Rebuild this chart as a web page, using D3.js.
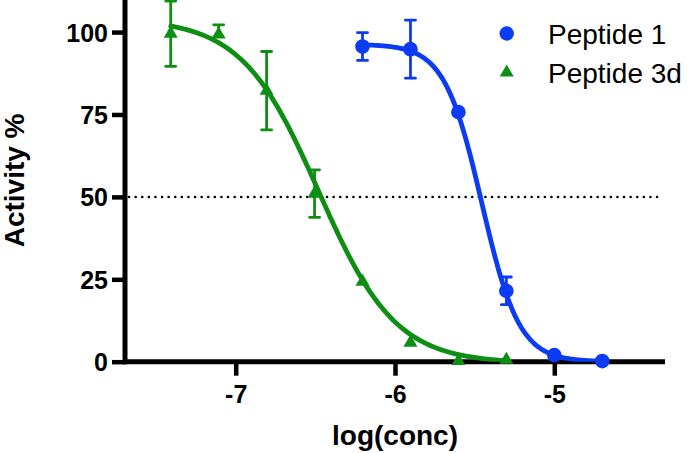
<!DOCTYPE html>
<html>
<head>
<meta charset="utf-8">
<script src="https://cdn.jsdelivr.net/npm/d3@7"></script>
<style>
  html, body { margin: 0; padding: 0; background: #fff; }
  svg { display: block; }
</style>
</head>
<body>
<svg id="chart" width="688" height="453"></svg>
<script>
// ---- data ----
const xTicks = [-7, -6, -5];
const yTicks = [0, 25, 50, 75, 100];

const seriesNames = ["Peptide 1", "Peptide 3d"];

// Peptide 1 (blue circles)
const p1LogConc = [-6.204, -5.903, -5.602, -5.301, -5.000, -4.699];
const p1Activity = [95.6, 94.8, 75.7, 21.5, 2.0, 0.2];
const p1ErrUp = [4.2, 8.8, 0, 4.2, 0, 0];
const p1ErrDown = [4.2, 8.8, 0, 4.2, 0, 0];

// Peptide 3d (green triangles)
const p3LogConc = [-7.408, -7.107, -6.806, -6.505, -6.204, -5.903, -5.602, -5.301];
const p3Activity = [99.5, 99.3, 82.2, 51.0, 24.3, 5.8, 0.2, 0.6];
const p3ErrUp = [9.9, 2.9, 11.9, 7.2, 0, 0, 0, 0];
const p3ErrDown = [9.9, 0, 11.9, 7.2, 0, 0, 0, 0];

// fitted 4-parameter logistic curves: [top, bottom, logIC50, hill]
const p1Fit = [96.3, 0.0, -5.455, 3.7];
const p3Fit = [104.0, -0.5, -6.48, 1.8];

const referenceLine = 50;

// ---- layout ----
const svg = d3.select("#chart");
const x = d3.scaleLinear().domain([-7.695, -4.305]).range([125, 665]);
const y = d3.scaleLinear().domain([0, 110]).range([361.7, -0.9]);

const blue = "#0b3cf4";
const green = "#0e8f14";
const font = "'Liberation Sans', Arial, Helvetica, sans-serif";

// axes
const xAxis = d3.axisBottom(x).tickValues(xTicks).tickSize(14).tickPadding(9)
  .tickFormat(d => String(d).replace("\u2212", "-"));
const yAxis = d3.axisLeft(y).tickValues(yTicks).tickSize(13).tickPadding(4);

const gx = svg.append("g").attr("transform", `translate(0,${y(0)})`).call(xAxis);
const gy = svg.append("g").attr("transform", `translate(${x.range()[0]},0)`).call(yAxis);

[gx, gy].forEach(g => {
  g.select(".domain").attr("stroke", "#000").attr("stroke-width", 5);
  g.selectAll(".tick line").attr("stroke", "#000").attr("stroke-width", 4.5);
  g.selectAll(".tick text").attr("fill", "#000")
    .style("font-family", font).style("font-weight", "bold").style("font-size", "25px");
});
gx.select(".domain").attr("d", `M${x.range()[0]},0H${x.range()[1]}`);
gy.select(".domain").attr("d", `M0,${y(0) + 2.5}V${y.range()[1]}`);
gy.selectAll(".tick text").attr("dy", "0.36em");
gx.selectAll(".tick text").attr("dy", "0.72em");

// axis titles
svg.append("text")
  .attr("x", (x.range()[0] + x.range()[1]) / 2).attr("y", 445)
  .attr("text-anchor", "middle")
  .style("font-family", font).style("font-weight", "bold").style("font-size", "28px")
  .text("log(conc)");
svg.append("text")
  .attr("transform", `translate(24,${y(55)}) rotate(-90)`)
  .attr("text-anchor", "middle")
  .style("font-family", font).style("font-weight", "bold").style("font-size", "28px")
  .text("Activity %");

// dotted reference line
svg.append("line")
  .attr("x1", 129).attr("x2", 661)
  .attr("y1", y(referenceLine)).attr("y2", y(referenceLine))
  .attr("stroke", "#000").attr("stroke-width", 2.5)
  .attr("stroke-linecap", "round")
  .attr("stroke-dasharray", "0.1 6.5");

// clip for curves
svg.append("clipPath").attr("id", "plotclip")
  .append("rect").attr("x", x.range()[0]).attr("y", -5)
  .attr("width", x.range()[1] - x.range()[0]).attr("height", y(0) + 5);

function logistic(fit, lx) {
  const [top, bottom, c, h] = fit;
  return bottom + (top - bottom) / (1 + Math.pow(10, (lx - c) * h));
}

function drawSeries(xs, ys, errUp, errDown, fit, color, symbolType, symbolSize) {
  const g = svg.append("g");
  // curve
  const lo = d3.min(xs), hi = d3.max(xs);
  const curveX = d3.range(0, 201).map(i => lo + (hi - lo) * i / 200);
  const line = d3.line().x(d => x(d)).y(d => y(logistic(fit, d)));
  g.append("path").datum(curveX)
    .attr("clip-path", "url(#plotclip)")
    .attr("d", line).attr("fill", "none")
    .attr("stroke", color).attr("stroke-width", 4.8)
    .attr("stroke-linecap", "round");
  // error bars
  const pts = xs.map((v, i) => ({x: v, y: ys[i], up: errUp[i], dn: errDown[i]}));
  pts.filter(d => d.up > 0 || d.dn > 0).forEach(d => {
    const cx = x(d.x);
    g.append("line").attr("x1", cx).attr("x2", cx)
      .attr("y1", y(d.y + d.up)).attr("y2", y(d.y - d.dn))
      .attr("stroke", color).attr("stroke-width", 2.8);
    if (d.up > 0) g.append("line").attr("x1", cx - 5).attr("x2", cx + 5)
      .attr("y1", y(d.y + d.up)).attr("y2", y(d.y + d.up))
      .attr("stroke", color).attr("stroke-width", 2.8).attr("stroke-linecap", "round");
    if (d.dn > 0) g.append("line").attr("x1", cx - 5).attr("x2", cx + 5)
      .attr("y1", y(d.y - d.dn)).attr("y2", y(d.y - d.dn))
      .attr("stroke", color).attr("stroke-width", 2.8).attr("stroke-linecap", "round");
  });
  // symbols
  g.selectAll("path.sym").data(pts).join("path").attr("class", "sym")
    .attr("transform", d => `translate(${x(d.x)},${y(d.y)})`)
    .attr("d", d3.symbol().type(symbolType).size(symbolSize))
    .attr("fill", color);
}

drawSeries(p3LogConc, p3Activity, p3ErrUp, p3ErrDown, p3Fit, green, d3.symbolTriangle, 85);
drawSeries(p1LogConc, p1Activity, p1ErrUp, p1ErrDown, p1Fit, blue, d3.symbolCircle, 170);

// legend
const legend = svg.append("g");
const legendItems = [
  {name: seriesNames[0], color: blue, type: d3.symbolCircle, size: 165, cy: 33.5},
  {name: seriesNames[1], color: green, type: d3.symbolTriangle, size: 85, cy: 72.5}
];
legendItems.forEach(it => {
  legend.append("path")
    .attr("transform", `translate(506.7,${it.cy})`)
    .attr("d", d3.symbol().type(it.type).size(it.size))
    .attr("fill", it.color);
  legend.append("text")
    .attr("x", 548).attr("y", it.cy + 10)
    .style("font-family", font).style("font-size", "28px").attr("fill", "#000")
    .text(it.name);
});
</script>
</body>
</html>
